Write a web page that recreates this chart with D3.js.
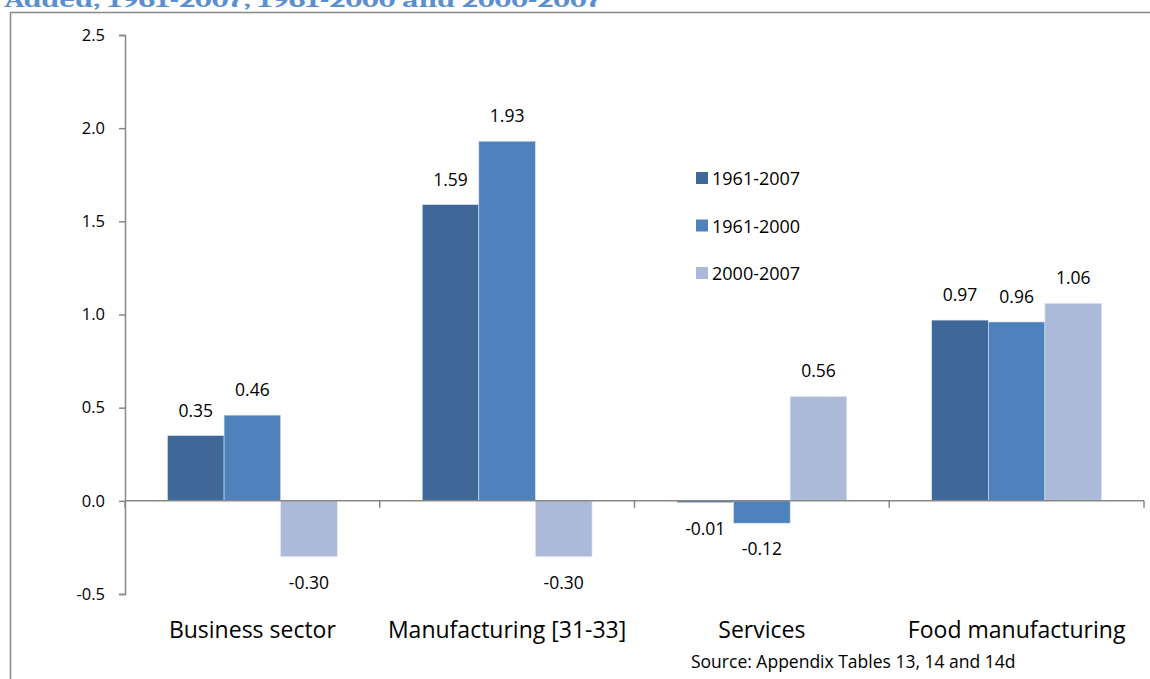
<!DOCTYPE html>
<html>
<head>
<meta charset="utf-8">
<script src="https://cdn.jsdelivr.net/npm/d3@7"></script>
<style>
  html, body { margin: 0; padding: 0; background: #fff; }
  svg { display: block; font-family: "Open Sans", sans-serif; }
</style>
</head>
<body>
<svg id="chart" width="1150" height="679"></svg>
<script>
// chart data
const categories = ['Business sector', 'Manufacturing [31-33]', 'Services', 'Food manufacturing'];
const seriesNames = ['1961-2007', '1961-2000', '2000-2007'];
const values1961_2007 = [0.35, 1.59, -0.01, 0.97];
const values1961_2000 = [0.46, 1.93, -0.12, 0.96];
const values2000_2007 = [-0.30, -0.30, 0.56, 1.06];
const yTicks = [-0.5, 0.0, 0.5, 1.0, 1.5, 2.0, 2.5];
const titleText = 'Added, 1961-2007, 1961-2000 and 2000-2007';
const sourceText = 'Source: Appendix Tables 13, 14 and 14d';

const colors = ['#3f6899', '#4f81bd', '#aabad8'];
const seriesValues = [values1961_2007, values1961_2000, values2000_2007];

const svg = d3.select('#chart');
const margin = { left: 125, right: 6, top: 35, bottom: 85 };

// outer frame, partly cut off like the original page
svg.append('rect')
  .attr('x', 10.5).attr('y', 12.5)
  .attr('width', 1150).attr('height', 700)
  .attr('fill', 'none')
  .attr('stroke', '#888').attr('stroke-width', 1.5);

// cropped title above the frame (only its lower part shows)
svg.append('text')
  .attr('x', 4).attr('y', 7)
  .attr('font-family', 'Cambria, "DejaVu Serif", serif')
  .attr('font-weight', 'bold')
  .attr('font-size', 22)
  .attr('textLength', 598)
  .attr('lengthAdjust', 'spacingAndGlyphs')
  .attr('fill', '#5b8fd0')
  .text(titleText);

const x0 = d3.scaleBand()
  .domain(categories)
  .range([margin.left, 1144])
  .paddingInner(0)
  .paddingOuter(0);

const x1 = d3.scaleBand()
  .domain(seriesNames)
  .range([0, x0.bandwidth()])
  .paddingOuter(0.75)
  .paddingInner(0);

const y = d3.scaleLinear()
  .domain([-0.5, 2.5])
  .range([594, 35]);

const fmt1 = d => d3.format('.1f')(d).replace('\u2212', '-');

// y axis
const yAxis = svg.append('g')
  .attr('transform', `translate(${margin.left},0)`)
  .call(d3.axisLeft(y).tickValues(yTicks).tickFormat(fmt1).tickSizeOuter(0).tickSize(6).tickPadding(14));
yAxis.select('.domain').attr('stroke', '#888').attr('stroke-width', 1.5);
yAxis.selectAll('.tick line').attr('stroke', '#888').attr('stroke-width', 1.5);
yAxis.selectAll('.tick text').attr('font-size', 16.5).attr('fill', '#000')
  .attr('font-family', '"Open Sans", sans-serif');

// bars
const groups = svg.selectAll('.group')
  .data(categories)
  .enter()
  .append('g')
  .attr('class', 'group')
  .attr('transform', d => `translate(${x0(d)},0)`);

groups.selectAll('rect')
  .data((d, i) => seriesNames.map((s, j) => ({ series: s, value: seriesValues[j][i], color: colors[j] })))
  .enter()
  .append('rect')
  .attr('x', d => x1(d.series))
  .attr('y', d => y(Math.max(0, d.value)))
  .attr('width', x1.bandwidth())
  .attr('height', d => Math.max(1.5, Math.abs(y(d.value) - y(0))))
  .attr('fill', d => d.color)
  .attr('stroke', '#dde6f2')
  .attr('stroke-width', 0.6);

// data labels
groups.selectAll('.label')
  .data((d, i) => seriesNames.map((s, j) => ({ series: s, value: seriesValues[j][i] })))
  .enter()
  .append('text')
  .attr('class', 'label')
  .attr('x', d => x1(d.series) + x1.bandwidth() / 2)
  .attr('y', d => d.value >= 0 ? y(d.value) - 19 : y(d.value) + 32)
  .attr('text-anchor', 'middle')
  .attr('font-size', 17.5)
  .attr('fill', '#000')
  .text(d => d.value.toFixed(2));

// x axis line at zero with category ticks
svg.append('line')
  .attr('x1', margin.left).attr('x2', x0.range()[1])
  .attr('y1', y(0)).attr('y2', y(0))
  .attr('stroke', '#888').attr('stroke-width', 1.5);

const tickXs = categories.map(c => x0(c)).concat([x0.range()[1]]);
svg.selectAll('.xtick')
  .data(tickXs)
  .enter()
  .append('line')
  .attr('class', 'xtick')
  .attr('x1', d => d).attr('x2', d => d)
  .attr('y1', y(0)).attr('y2', y(0) + 7)
  .attr('stroke', '#888').attr('stroke-width', 1.5);

// category labels
svg.selectAll('.cat')
  .data(categories)
  .enter()
  .append('text')
  .attr('class', 'cat')
  .attr('x', d => x0(d) + x0.bandwidth() / 2)
  .attr('y', 638)
  .attr('text-anchor', 'middle')
  .attr('font-size', 23)
  .attr('fill', '#000')
  .text(d => d);

// legend
const legend = svg.selectAll('.legend-item')
  .data(seriesNames)
  .enter()
  .append('g')
  .attr('class', 'legend-item')
  .attr('transform', (d, i) => `translate(696, ${172 + i * 47.5})`);

legend.append('rect')
  .attr('width', 12).attr('height', 12)
  .attr('fill', (d, i) => colors[i]);

legend.append('text')
  .attr('x', 16).attr('y', 13)
  .attr('font-size', 18)
  .attr('fill', '#000')
  .text(d => d);

// source note
svg.append('text')
  .attr('x', 691).attr('y', 668)
  .attr('font-size', 17.5)
  .attr('fill', '#000')
  .text(sourceText);
</script>
</body>
</html>
